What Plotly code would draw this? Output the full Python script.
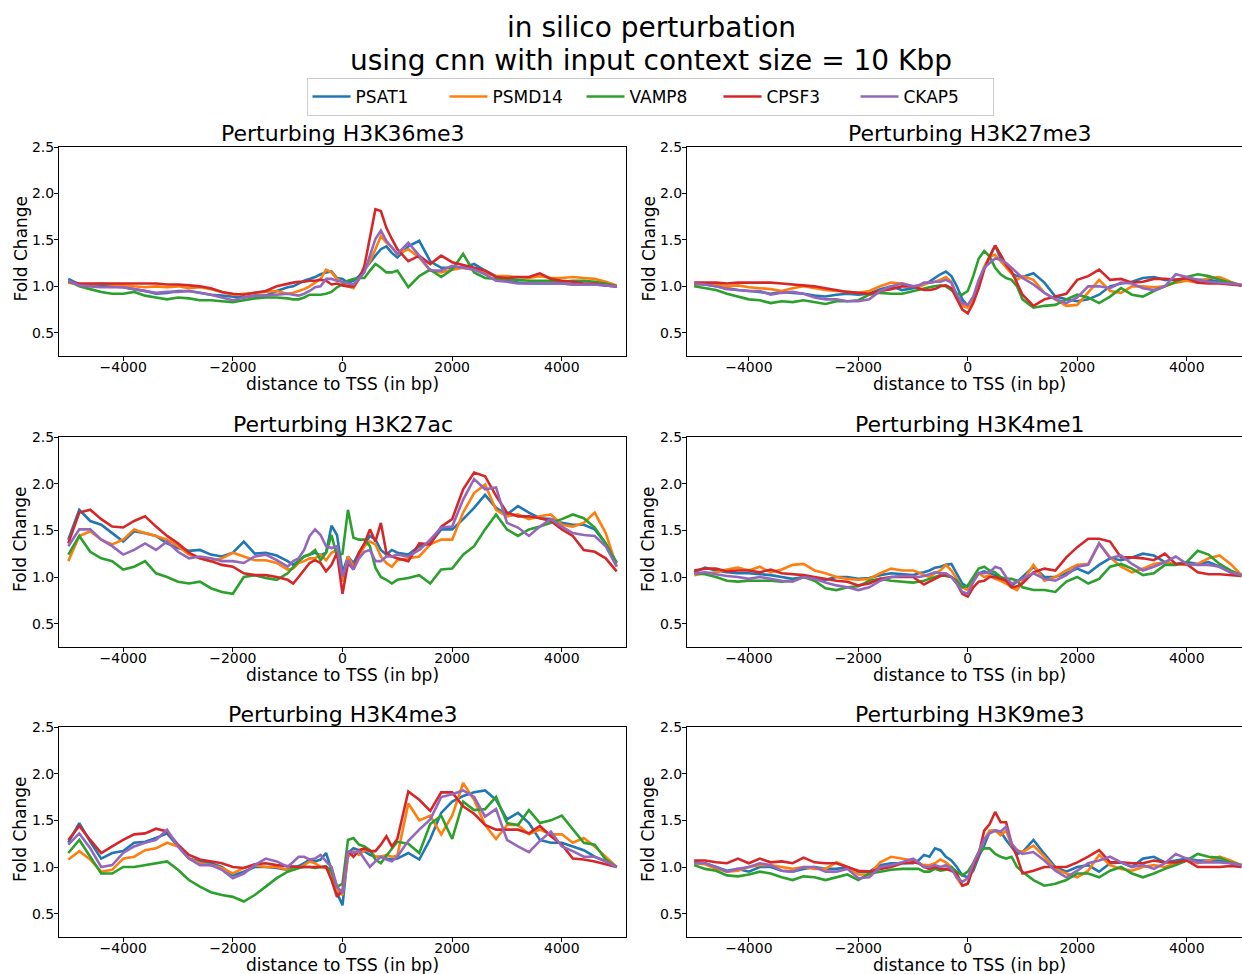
import plotly.graph_objects as go

# Distance to TSS (bp) at which the fold change is sampled
DIST_BP = [-5000, -4800, -4600, -4400, -4200, -4000, -3800, -3600, -3400, -3200,
           -3000, -2800, -2600, -2400, -2200, -2000, -1800, -1600, -1400, -1200,
           -1000, -900, -800, -700, -600, -500, -400, -300, -200, -100, 0,
           100, 200, 300, 400, 500, 600, 700, 800, 900, 1000,
           1200, 1400, 1600, 1800, 2000, 2200, 2400, 2600, 2800, 3000,
           3200, 3400, 3600, 3800, 4000, 4200, 4400, 4600, 4800, 5000]

GENES = ["PSAT1", "PSMD14", "VAMP8", "CPSF3", "CKAP5"]
GENE_COLORS = ["#1f77b4", "#ff7f0e", "#2ca02c", "#d62728", "#9467bd"]
MARKS = ["H3K36me3", "H3K27me3", "H3K27ac", "H3K4me1", "H3K4me3", "H3K9me3"]

X_TICKS = [-4000, -2000, 0, 2000, 4000]
X_TICK_TEXT = ["\u22124000", "\u22122000", "0", "2000", "4000"]
Y_TICKS = [0.5, 1.0, 1.5, 2.0, 2.5]
Y_TICK_TEXT = ["0.5", "1.0", "1.5", "2.0", "2.5"]

# ---- Perturbing H3K36me3 ----
K36ME3_PSAT1 = [1.08, 1.02, 1.01, 1.00, 1.00, 0.99, 0.97, 0.95, 0.92, 0.93, 0.95, 0.95, 0.93, 0.91, 0.90, 0.89, 0.88, 0.90, 0.90, 0.95,
                0.99, 1.00, 1.03, 1.06, 1.08, 1.10, 1.13, 1.15, 1.16, 1.09, 1.08, 1.04, 1.06, 1.11, 1.18, 1.26, 1.33, 1.40, 1.43, 1.36, 1.31,
                1.43, 1.49, 1.27, 1.20, 1.20, 1.20, 1.24, 1.17, 1.11, 1.06, 1.04, 1.03, 1.03, 1.03, 1.03, 1.02, 1.02, 1.02, 1.01, 1.00]
K36ME3_PSMD14 = [1.04, 1.02, 1.02, 1.03, 1.02, 1.01, 1.00, 0.99, 1.00, 0.99, 1.00, 0.98, 0.99, 0.97, 0.94, 0.91, 0.92, 0.93, 0.94, 0.95,
                 0.92, 0.93, 0.95, 0.97, 1.00, 1.04, 1.08, 1.18, 1.15, 1.08, 1.04, 1.00, 0.98, 1.08, 1.17, 1.27, 1.40, 1.54, 1.47, 1.42, 1.35,
                 1.40, 1.31, 1.17, 1.15, 1.18, 1.20, 1.18, 1.15, 1.11, 1.11, 1.10, 1.09, 1.11, 1.09, 1.09, 1.10, 1.09, 1.08, 1.05, 1.01]
K36ME3_VAMP8 = [1.06, 1.00, 0.97, 0.94, 0.92, 0.92, 0.94, 0.90, 0.88, 0.86, 0.88, 0.87, 0.85, 0.85, 0.84, 0.83, 0.85, 0.87, 0.88, 0.88,
                0.87, 0.86, 0.86, 0.88, 0.91, 0.91, 0.91, 0.92, 0.94, 0.99, 1.02, 1.06, 1.08, 1.09, 1.09, 1.17, 1.24, 1.20, 1.15, 1.15, 1.17,
                0.99, 1.11, 1.18, 1.10, 1.18, 1.35, 1.15, 1.09, 1.08, 1.08, 1.07, 1.06, 1.06, 1.06, 1.05, 1.06, 1.06, 1.05, 1.03, 1.00]
K36ME3_CPSF3 = [1.05, 1.03, 1.03, 1.03, 1.03, 1.03, 1.03, 1.03, 1.03, 1.02, 1.02, 1.01, 1.00, 0.98, 0.94, 0.92, 0.91, 0.93, 0.95, 1.00,
                1.03, 1.04, 1.05, 1.05, 1.06, 1.06, 1.07, 1.06, 1.02, 1.03, 1.01, 1.00, 1.00, 1.08, 1.22, 1.51, 1.83, 1.81, 1.63, 1.51, 1.40,
                1.27, 1.33, 1.24, 1.33, 1.26, 1.23, 1.20, 1.17, 1.10, 1.09, 1.10, 1.10, 1.14, 1.08, 1.06, 1.05, 1.03, 1.03, 1.01, 1.00]
K36ME3_CKAP5 = [1.06, 1.01, 1.00, 0.99, 0.99, 0.99, 0.97, 0.95, 0.93, 0.94, 0.94, 0.95, 0.93, 0.91, 0.88, 0.85, 0.88, 0.90, 0.90, 0.91,
                0.92, 0.91, 0.90, 0.92, 0.95, 0.99, 1.00, 1.08, 1.08, 1.06, 1.05, 1.03, 1.02, 1.08, 1.15, 1.33, 1.51, 1.60, 1.49, 1.42, 1.35,
                1.47, 1.33, 1.17, 1.17, 1.22, 1.20, 1.18, 1.13, 1.06, 1.05, 1.03, 1.03, 1.03, 1.03, 1.03, 1.02, 1.02, 1.02, 1.01, 1.00]

# ---- Perturbing H3K27me3 ----
K27ME3_PSAT1 = [1.03, 1.02, 1.00, 0.98, 0.96, 0.95, 0.94, 0.92, 0.94, 0.93, 0.92, 0.90, 0.89, 0.91, 0.92, 0.91, 0.92, 0.97, 1.00, 0.96,
                0.98, 1.00, 1.02, 1.05, 1.09, 1.13, 1.16, 1.11, 1.00, 0.86, 0.79, 0.86, 1.04, 1.20, 1.32, 1.44, 1.30, 1.21, 1.14, 1.11, 1.10,
                1.14, 1.04, 0.89, 0.86, 0.84, 0.86, 0.91, 1.00, 1.03, 1.05, 1.09, 1.10, 1.07, 1.07, 1.08, 1.07, 1.07, 1.05, 1.04, 1.01]
K27ME3_PSMD14 = [1.01, 1.03, 1.02, 1.00, 1.01, 0.99, 0.98, 0.97, 0.95, 0.98, 1.00, 0.98, 0.96, 0.95, 0.94, 0.93, 0.95, 1.00, 1.04, 1.03,
                 1.00, 1.00, 1.02, 1.04, 1.05, 1.07, 1.10, 1.05, 0.89, 0.79, 0.77, 0.86, 1.04, 1.21, 1.32, 1.34, 1.27, 1.21, 1.14, 1.07, 1.11,
                 1.07, 0.93, 0.86, 0.79, 0.80, 0.93, 1.07, 0.95, 0.93, 1.00, 1.00, 0.99, 1.00, 1.04, 1.06, 1.04, 1.09, 1.10, 1.05, 1.01]
K27ME3_VAMP8 = [1.00, 0.98, 0.96, 0.92, 0.89, 0.86, 0.85, 0.82, 0.84, 0.83, 0.85, 0.83, 0.81, 0.84, 0.84, 0.85, 0.91, 0.93, 0.92, 0.92,
                0.95, 0.96, 0.98, 0.99, 1.00, 1.01, 1.00, 0.96, 0.92, 0.91, 0.95, 1.11, 1.30, 1.38, 1.32, 1.20, 1.13, 1.09, 1.07, 1.00, 0.86,
                0.77, 0.79, 0.80, 0.86, 0.91, 0.88, 0.82, 0.89, 0.98, 0.91, 0.89, 0.95, 1.00, 1.05, 1.10, 1.13, 1.11, 1.07, 1.04, 1.01]
K27ME3_CPSF3 = [1.04, 1.04, 1.04, 1.03, 1.04, 1.04, 1.04, 1.04, 1.03, 1.02, 1.01, 1.00, 0.98, 0.96, 0.94, 0.93, 0.92, 0.95, 0.97, 1.00,
                1.00, 0.98, 0.96, 0.96, 0.97, 1.00, 1.01, 0.98, 0.86, 0.75, 0.71, 0.82, 0.98, 1.18, 1.32, 1.44, 1.34, 1.23, 1.16, 1.04, 0.91,
                0.79, 0.86, 0.89, 0.92, 1.07, 1.11, 1.18, 1.07, 1.08, 1.04, 1.05, 1.08, 1.08, 1.07, 1.09, 1.04, 1.03, 1.03, 1.02, 1.01]
K27ME3_CKAP5 = [1.03, 1.02, 1.00, 0.97, 0.96, 0.95, 0.95, 0.91, 0.93, 0.94, 0.92, 0.88, 0.86, 0.86, 0.84, 0.84, 0.86, 0.95, 1.00, 1.03,
                1.00, 1.01, 1.04, 1.04, 1.05, 1.05, 1.07, 1.04, 0.91, 0.82, 0.80, 0.89, 1.07, 1.20, 1.25, 1.30, 1.29, 1.25, 1.20, 1.14, 1.09,
                1.02, 0.93, 0.86, 0.82, 0.88, 1.00, 1.00, 0.98, 1.04, 1.03, 0.98, 0.96, 1.00, 1.13, 1.10, 1.07, 1.05, 1.04, 1.03, 1.02]

# ---- Perturbing H3K27ac ----
K27AC_PSAT1 = [1.40, 1.72, 1.60, 1.56, 1.47, 1.38, 1.49, 1.47, 1.44, 1.36, 1.31, 1.28, 1.29, 1.24, 1.22, 1.26, 1.38, 1.25, 1.26, 1.23,
               1.17, 1.13, 1.17, 1.22, 1.24, 1.26, 1.23, 1.26, 1.55, 1.45, 1.05, 1.22, 1.15, 1.26, 1.35, 1.44, 1.40, 1.29, 1.24, 1.29, 1.26,
               1.24, 1.33, 1.36, 1.51, 1.51, 1.62, 1.74, 1.88, 1.74, 1.67, 1.76, 1.69, 1.63, 1.62, 1.58, 1.56, 1.56, 1.51, 1.36, 1.15]
K27AC_PSMD14 = [1.17, 1.44, 1.49, 1.40, 1.35, 1.40, 1.51, 1.47, 1.44, 1.40, 1.33, 1.24, 1.20, 1.17, 1.20, 1.26, 1.22, 1.18, 1.18, 1.15,
                1.08, 1.09, 1.15, 1.17, 1.20, 1.20, 1.24, 1.18, 1.26, 1.29, 0.95, 1.22, 1.11, 1.22, 1.33, 1.38, 1.35, 1.22, 1.15, 1.11, 1.18,
                1.20, 1.22, 1.35, 1.40, 1.40, 1.69, 1.90, 1.99, 1.72, 1.65, 1.67, 1.62, 1.65, 1.67, 1.56, 1.54, 1.58, 1.69, 1.47, 1.11]
K27AC_VAMP8 = [1.24, 1.44, 1.27, 1.20, 1.17, 1.08, 1.11, 1.17, 1.04, 1.00, 0.95, 0.93, 0.95, 0.88, 0.84, 0.82, 1.00, 1.02, 0.99, 0.97,
               1.04, 1.11, 1.17, 1.22, 1.24, 1.29, 1.18, 1.26, 1.45, 1.22, 1.25, 1.72, 1.42, 1.40, 1.40, 1.33, 1.10, 1.00, 0.97, 0.93, 0.97,
               0.99, 1.02, 0.93, 1.08, 1.09, 1.24, 1.33, 1.51, 1.67, 1.51, 1.44, 1.51, 1.54, 1.58, 1.62, 1.67, 1.63, 1.53, 1.36, 1.15]
K27AC_CPSF3 = [1.36, 1.69, 1.72, 1.62, 1.54, 1.53, 1.60, 1.65, 1.54, 1.44, 1.36, 1.26, 1.20, 1.17, 1.13, 1.11, 1.04, 1.02, 1.02, 1.00,
               0.97, 0.93, 1.00, 1.08, 1.15, 1.18, 1.15, 1.06, 1.13, 1.26, 0.82, 1.15, 1.08, 1.26, 1.36, 1.51, 1.38, 1.58, 1.26, 1.22, 1.20,
               1.17, 1.36, 1.35, 1.54, 1.62, 1.94, 2.12, 2.08, 1.87, 1.69, 1.65, 1.65, 1.63, 1.60, 1.51, 1.44, 1.29, 1.27, 1.20, 1.06]
K27AC_CKAP5 = [1.33, 1.51, 1.51, 1.40, 1.33, 1.24, 1.29, 1.36, 1.29, 1.38, 1.27, 1.20, 1.22, 1.20, 1.17, 1.17, 1.15, 1.22, 1.24, 1.18,
               1.11, 1.17, 1.20, 1.29, 1.44, 1.51, 1.45, 1.33, 1.31, 1.33, 1.00, 1.18, 1.08, 1.20, 1.27, 1.29, 1.17, 1.17, 1.22, 1.22, 1.24,
               1.22, 1.29, 1.40, 1.53, 1.54, 1.83, 2.05, 1.94, 1.96, 1.58, 1.53, 1.44, 1.54, 1.62, 1.54, 1.47, 1.45, 1.44, 1.33, 1.11]

# ---- Perturbing H3K4me1 ----
K4ME1_PSAT1 = [1.05, 1.10, 1.07, 1.05, 1.04, 1.04, 1.03, 1.02, 1.00, 0.98, 1.00, 0.99, 0.97, 1.00, 1.00, 0.98, 0.99, 1.02, 1.04, 1.03,
               1.02, 1.04, 1.05, 1.07, 1.10, 1.11, 1.13, 1.14, 1.04, 0.93, 0.89, 0.96, 1.04, 1.06, 1.04, 1.02, 0.99, 0.96, 0.91, 0.95, 1.00,
               1.11, 1.00, 1.00, 1.04, 1.09, 1.04, 1.13, 1.20, 1.18, 1.21, 1.25, 1.23, 1.16, 1.14, 1.16, 1.14, 1.16, 1.11, 1.05, 1.01]
K4ME1_PSMD14 = [1.02, 1.04, 1.05, 1.08, 1.10, 1.07, 1.11, 1.05, 1.08, 1.13, 1.14, 1.07, 1.04, 1.00, 0.98, 0.97, 0.98, 1.04, 1.09, 1.07,
                1.07, 1.05, 1.02, 1.00, 1.04, 1.07, 1.13, 1.07, 0.98, 0.89, 0.86, 0.95, 1.04, 1.00, 1.02, 0.98, 0.96, 0.93, 0.89, 0.86, 0.95,
                1.13, 0.96, 1.00, 1.07, 1.13, 1.14, 1.36, 1.21, 1.11, 1.05, 1.09, 1.14, 1.16, 1.14, 1.13, 1.14, 1.20, 1.23, 1.14, 1.02]
K4ME1_VAMP8 = [1.04, 1.03, 1.00, 0.96, 0.95, 0.96, 0.96, 0.96, 0.95, 0.96, 1.00, 0.96, 0.88, 0.86, 0.89, 0.90, 0.96, 0.98, 0.96, 0.95,
               0.94, 0.95, 0.96, 0.98, 1.00, 1.02, 1.01, 1.00, 0.96, 0.89, 0.91, 1.00, 1.09, 1.11, 1.07, 1.05, 1.00, 0.98, 0.98, 0.96, 0.89,
               0.86, 0.86, 0.84, 0.95, 1.00, 0.93, 0.98, 1.11, 1.14, 1.09, 1.02, 1.04, 1.13, 1.13, 1.16, 1.28, 1.24, 1.14, 1.07, 1.02]
K4ME1_CPSF3 = [1.07, 1.09, 1.09, 1.06, 1.07, 1.07, 1.05, 1.08, 1.04, 1.03, 1.02, 1.00, 0.98, 0.96, 0.95, 0.91, 0.93, 0.98, 1.00, 1.00,
               1.00, 0.96, 0.92, 0.95, 0.98, 1.01, 1.02, 1.00, 0.93, 0.82, 0.79, 0.89, 0.95, 0.96, 1.00, 1.00, 0.98, 0.96, 0.89, 0.90, 0.93,
               1.05, 1.09, 1.07, 1.21, 1.32, 1.41, 1.41, 1.38, 1.21, 1.21, 1.20, 1.18, 1.25, 1.14, 1.14, 1.05, 1.03, 1.03, 1.02, 1.01]
K4ME1_CKAP5 = [1.04, 1.05, 1.03, 1.01, 1.00, 0.98, 1.00, 0.98, 0.96, 0.95, 1.00, 0.98, 0.94, 0.91, 0.89, 0.86, 0.89, 0.96, 1.00, 1.01,
               1.01, 1.00, 1.01, 1.03, 1.05, 1.04, 1.04, 1.00, 0.93, 0.84, 0.82, 0.95, 1.04, 1.04, 1.05, 1.11, 1.09, 1.00, 0.93, 0.95, 0.98,
               1.04, 0.98, 0.96, 1.02, 1.11, 1.13, 1.36, 1.20, 1.23, 1.14, 1.07, 1.11, 1.16, 1.22, 1.14, 1.13, 1.13, 1.11, 1.05, 1.02]

# ---- Perturbing H3K4me3 ----
K4ME3_PSAT1 = [1.26, 1.47, 1.27, 1.09, 1.15, 1.17, 1.26, 1.27, 1.31, 1.36, 1.22, 1.09, 1.06, 1.04, 1.00, 0.91, 0.95, 1.00, 1.00, 0.99,
               0.97, 1.00, 1.01, 1.04, 1.08, 1.06, 1.08, 1.15, 0.97, 0.72, 0.59, 1.15, 1.20, 1.18, 1.17, 1.13, 1.11, 1.11, 1.09, 1.08, 1.09,
               1.15, 1.08, 1.30, 1.58, 1.70, 1.76, 1.80, 1.82, 1.72, 1.51, 1.58, 1.47, 1.29, 1.26, 1.26, 1.22, 1.18, 1.11, 1.06, 1.00]
K4ME3_PSMD14 = [1.08, 1.17, 1.08, 0.95, 0.97, 1.09, 1.11, 1.18, 1.20, 1.26, 1.22, 1.09, 1.04, 1.02, 0.99, 0.93, 0.99, 1.02, 1.00, 1.00,
                0.97, 0.97, 0.99, 1.02, 1.06, 1.04, 1.00, 0.99, 0.93, 0.75, 0.70, 1.11, 1.17, 1.13, 1.18, 1.18, 1.11, 1.11, 1.13, 1.11, 1.12,
                1.68, 1.50, 1.55, 1.35, 1.55, 1.90, 1.72, 1.45, 1.30, 1.45, 1.45, 1.35, 1.40, 1.35, 1.35, 1.26, 1.31, 1.22, 1.11, 1.00]
K4ME3_VAMP8 = [1.15, 1.29, 1.11, 0.93, 0.93, 1.00, 1.00, 1.02, 1.04, 1.06, 0.97, 0.86, 0.79, 0.73, 0.70, 0.68, 0.63, 0.70, 0.79, 0.88,
               0.95, 0.97, 0.99, 1.00, 1.00, 0.99, 1.00, 1.01, 0.95, 0.79, 0.82, 1.29, 1.31, 1.24, 1.22, 1.18, 1.08, 1.04, 1.12, 1.20, 1.27,
               1.25, 1.15, 1.46, 1.55, 1.30, 1.70, 1.61, 1.62, 1.75, 1.47, 1.45, 1.61, 1.47, 1.50, 1.55, 1.40, 1.26, 1.24, 1.08, 1.00]
K4ME3_CPSF3 = [1.29, 1.44, 1.29, 1.15, 1.22, 1.29, 1.35, 1.36, 1.41, 1.38, 1.24, 1.13, 1.08, 1.06, 1.04, 1.00, 0.99, 1.03, 1.04, 1.02,
               1.01, 1.00, 1.00, 1.00, 1.00, 1.00, 1.00, 1.00, 0.86, 0.68, 0.75, 1.17, 1.11, 1.18, 1.20, 1.17, 1.17, 1.24, 1.33, 1.22, 1.30,
               1.81, 1.72, 1.60, 1.80, 1.80, 1.65, 1.57, 1.45, 1.40, 1.40, 1.40, 1.36, 1.44, 1.33, 1.24, 1.09, 1.08, 1.06, 1.03, 1.00]
K4ME3_CKAP5 = [1.24, 1.36, 1.20, 1.00, 1.02, 1.15, 1.22, 1.26, 1.29, 1.40, 1.22, 1.09, 1.02, 1.02, 0.97, 0.88, 0.93, 1.02, 1.09, 1.06,
               1.00, 1.06, 1.11, 1.11, 1.08, 1.09, 1.13, 1.06, 1.00, 0.79, 0.72, 1.17, 1.15, 1.17, 1.08, 1.00, 1.06, 1.11, 1.08, 1.06, 1.11,
               1.28, 1.40, 1.51, 1.75, 1.78, 1.82, 1.75, 1.54, 1.62, 1.29, 1.22, 1.16, 1.28, 1.38, 1.22, 1.17, 1.11, 1.11, 1.06, 1.00]

# ---- Perturbing H3K9me3 ----
K9ME3_PSAT1 = [1.05, 1.04, 1.00, 0.96, 0.98, 0.95, 1.00, 1.00, 0.96, 0.95, 0.98, 1.00, 0.98, 0.98, 1.00, 0.95, 0.95, 1.02, 1.04, 1.04,
               1.04, 1.07, 1.13, 1.11, 1.20, 1.18, 1.11, 1.07, 1.00, 0.91, 0.89, 0.96, 1.11, 1.23, 1.38, 1.39, 1.38, 1.29, 1.21, 1.14, 1.16,
               1.29, 1.14, 1.00, 0.95, 1.00, 1.02, 0.95, 1.04, 1.05, 1.00, 1.09, 1.11, 1.05, 1.07, 1.09, 1.07, 1.07, 1.07, 1.04, 1.01]
K9ME3_PSMD14 = [1.04, 1.03, 0.98, 0.95, 0.96, 1.00, 1.02, 1.02, 1.00, 0.98, 1.00, 0.98, 0.98, 1.05, 1.00, 0.92, 0.92, 1.05, 1.11, 1.09,
                1.07, 1.04, 1.02, 1.02, 1.04, 1.08, 1.05, 1.00, 0.88, 0.80, 0.82, 1.00, 1.14, 1.29, 1.39, 1.39, 1.34, 1.39, 1.23, 1.18, 1.16,
                1.23, 1.11, 0.98, 0.93, 0.89, 0.96, 1.13, 1.02, 0.98, 0.96, 1.00, 1.02, 1.00, 1.04, 1.07, 1.04, 1.07, 1.11, 1.07, 1.02]
K9ME3_VAMP8 = [1.02, 0.98, 0.96, 0.91, 0.90, 0.92, 0.95, 0.93, 0.89, 0.86, 0.90, 0.89, 0.86, 0.89, 0.92, 0.86, 0.93, 0.95, 0.97, 0.98,
               0.98, 0.98, 0.95, 0.95, 0.98, 0.96, 0.97, 1.00, 0.95, 0.91, 0.95, 1.04, 1.16, 1.20, 1.20, 1.14, 1.11, 1.09, 1.11, 1.00, 0.95,
               0.86, 0.80, 0.82, 0.86, 0.93, 0.93, 0.89, 0.96, 1.00, 0.93, 0.89, 0.93, 0.98, 1.02, 1.07, 1.14, 1.11, 1.10, 1.05, 1.02]
K9ME3_CPSF3 = [1.07, 1.07, 1.05, 1.04, 1.09, 1.04, 1.09, 1.05, 1.06, 1.04, 1.10, 1.05, 1.04, 1.04, 1.00, 0.96, 0.95, 0.98, 1.00, 1.04,
               1.05, 1.04, 1.00, 0.98, 1.00, 0.98, 0.98, 0.96, 0.93, 0.80, 0.82, 1.00, 1.14, 1.39, 1.46, 1.59, 1.48, 1.48, 1.25, 1.11, 0.93,
               0.96, 1.00, 1.00, 1.00, 1.05, 1.11, 1.18, 1.05, 1.05, 1.04, 1.04, 1.07, 1.05, 1.05, 1.07, 1.00, 1.00, 1.00, 1.01, 1.00]
K9ME3_CKAP5 = [1.04, 1.04, 1.00, 0.95, 0.98, 1.00, 1.04, 1.02, 0.96, 0.95, 1.00, 1.00, 0.95, 0.95, 0.98, 0.88, 0.89, 1.00, 1.02, 1.05,
               1.09, 1.05, 1.00, 1.00, 1.02, 1.00, 1.02, 0.98, 0.89, 0.84, 0.88, 1.04, 1.16, 1.30, 1.36, 1.39, 1.38, 1.43, 1.25, 1.18, 1.14,
               1.16, 1.07, 0.96, 0.89, 0.96, 1.04, 1.07, 1.11, 1.05, 1.00, 1.02, 0.98, 1.04, 1.14, 1.09, 1.05, 1.05, 1.05, 1.04, 1.02]

PANEL_SERIES = [
    [K36ME3_PSAT1, K36ME3_PSMD14, K36ME3_VAMP8, K36ME3_CPSF3, K36ME3_CKAP5],
    [K27ME3_PSAT1, K27ME3_PSMD14, K27ME3_VAMP8, K27ME3_CPSF3, K27ME3_CKAP5],
    [K27AC_PSAT1, K27AC_PSMD14, K27AC_VAMP8, K27AC_CPSF3, K27AC_CKAP5],
    [K4ME1_PSAT1, K4ME1_PSMD14, K4ME1_VAMP8, K4ME1_CPSF3, K4ME1_CKAP5],
    [K4ME3_PSAT1, K4ME3_PSMD14, K4ME3_VAMP8, K4ME3_CPSF3, K4ME3_CKAP5],
    [K9ME3_PSAT1, K9ME3_PSMD14, K9ME3_VAMP8, K9ME3_CPSF3, K9ME3_CKAP5],
]

# ---- figure geometry (pixels) ----
W, H = 1242, 974
FONT = "DejaVu Sans"
COL_PX = [(59, 626), (687, 1242)]
ROW_PX = [(147, 356), (437, 647), (727, 937)]
COL_XRANGE = [[-5170, 5170], [-5130, 5010]]
COL_CENTER_PX = [342.5, 969.5]
YLABEL_X_PX = [20, 648]


def px_x(p):
    return p / W


def px_y(p):
    return 1 - p / H


fig = go.Figure()
annotations = []

for i, mark in enumerate(MARKS):
    row, col = divmod(i, 2)
    ax = i + 1
    xname = "xaxis" if ax == 1 else f"xaxis{ax}"
    yname = "yaxis" if ax == 1 else f"yaxis{ax}"
    xref = "x" if ax == 1 else f"x{ax}"
    yref = "y" if ax == 1 else f"y{ax}"

    for gene, color, values in zip(GENES, GENE_COLORS, PANEL_SERIES[i]):
        fig.add_trace(go.Scatter(
            x=DIST_BP, y=values, mode="lines", name=gene,
            line=dict(color=color, width=2.6),
            showlegend=(i == 0), xaxis=xref, yaxis=yref,
            hoverinfo="skip",
        ))

    x0, x1 = COL_PX[col]
    y0, y1 = ROW_PX[row]
    fig.layout[xname] = dict(
        domain=[px_x(x0), min(1.0, px_x(x1))], anchor=yref,
        range=COL_XRANGE[col], showgrid=False, zeroline=False,
        showline=True, linecolor="black", linewidth=1, mirror=True,
        ticks="outside", ticklen=4, tickwidth=1, tickcolor="black",
        tickvals=X_TICKS, ticktext=X_TICK_TEXT, ticklabelstandoff=-6,
        tickfont=dict(family=FONT, size=14, color="black"),
        automargin=False, fixedrange=True,
    )
    fig.layout[yname] = dict(
        domain=[px_y(y1), px_y(y0)], anchor=xref,
        range=[0.25, 2.5], showgrid=False, zeroline=False,
        showline=True, linecolor="black", linewidth=1, mirror=(col == 0),
        ticks="outside", ticklen=4, tickwidth=1, tickcolor="black",
        tickvals=Y_TICKS, ticktext=Y_TICK_TEXT, ticklabelstandoff=-3,
        tickfont=dict(family=FONT, size=14, color="black"),
        automargin=False, fixedrange=True,
    )

    # panel title
    annotations.append(dict(
        text=f"Perturbing {mark}", xref="paper", yref="paper",
        x=px_x(COL_CENTER_PX[col]), y=px_y(y0 - 13), xanchor="center", yanchor="middle",
        showarrow=False, font=dict(family=FONT, size=22, color="black"),
    ))
    # x-axis title
    annotations.append(dict(
        text="distance to TSS (in bp)", xref="paper", yref="paper",
        x=px_x(COL_CENTER_PX[col]), y=px_y(y1 + 28), xanchor="center", yanchor="middle",
        showarrow=False, font=dict(family=FONT, size=17, color="black"),
    ))
    # y-axis title
    annotations.append(dict(
        text="Fold Change", xref="paper", yref="paper", textangle=-90,
        x=px_x(YLABEL_X_PX[col]), y=px_y((y0 + y1) / 2 - 3), xanchor="center", yanchor="middle",
        showarrow=False, font=dict(family=FONT, size=17, color="black"),
    ))

# figure title, two lines
annotations.append(dict(
    text="in silico perturbation", xref="paper", yref="paper",
    x=px_x(651), y=px_y(28), xanchor="center", yanchor="middle",
    showarrow=False, font=dict(family=FONT, size=28, color="black"),
))
annotations.append(dict(
    text="using cnn with input context size = 10 Kbp", xref="paper", yref="paper",
    x=px_x(651), y=px_y(60), xanchor="center", yanchor="middle",
    showarrow=False, font=dict(family=FONT, size=28, color="black"),
))

fig.update_layout(
    width=W, height=H,
    margin=dict(l=0, r=0, t=0, b=0),
    paper_bgcolor="white", plot_bgcolor="white",
    font=dict(family=FONT, color="black"),
    annotations=annotations,
    showlegend=True,
    legend=dict(
        orientation="h", x=px_x(650), xanchor="center", y=px_y(97), yanchor="middle",
        bgcolor="white", bordercolor="#cccccc", borderwidth=1,
        font=dict(family=FONT, size=17, color="black"),
        itemwidth=38, entrywidth=84, entrywidthmode="pixels",
    ),
)

fig.write_html("out.html")
